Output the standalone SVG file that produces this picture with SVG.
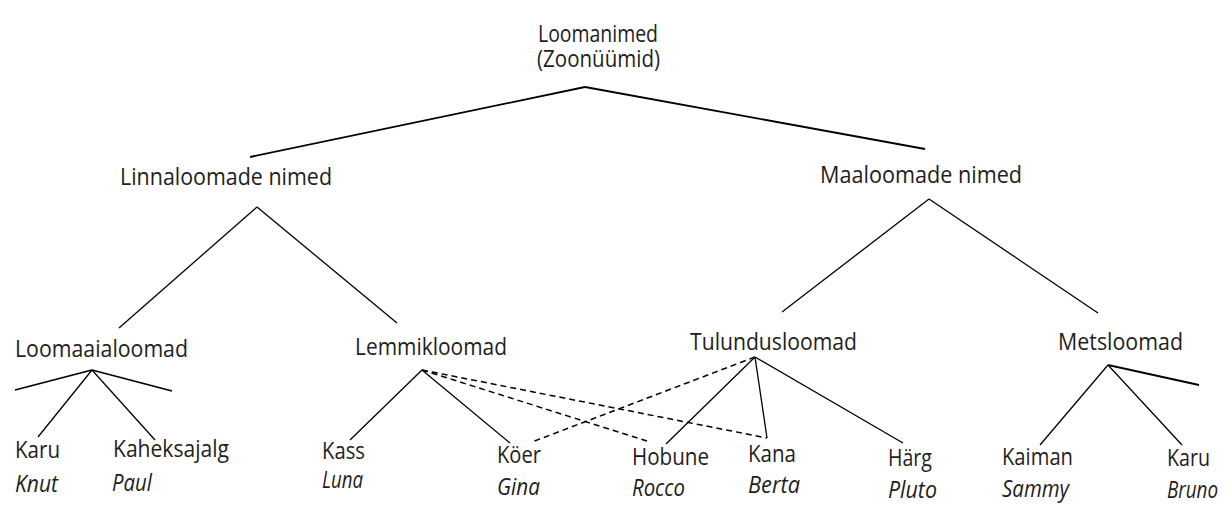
<svg xmlns="http://www.w3.org/2000/svg" width="1232" height="505" viewBox="0 0 1232 505">
<style>
text{font-family:"Open Sans","Liberation Sans",sans-serif;font-size:23px;fill:#1e1e1e}
.i{font-style:italic}
line{stroke:#000;stroke-width:1.3;fill:none}
.t{stroke-width:1.8}
.d{stroke-dasharray:6 4;stroke-width:1.5}
</style>
<rect width="1232" height="505" fill="#fff"/>
<g id="connectors">
<line class="t" x1="585" y1="87" x2="250" y2="157"/>
<line class="t" x1="585" y1="87" x2="925" y2="149"/>
<line x1="257" y1="207" x2="119" y2="328"/>
<line x1="257" y1="207" x2="397" y2="323"/>
<line x1="929" y1="199" x2="782" y2="312"/>
<line x1="929" y1="199" x2="1098" y2="313"/>
<line class="t" x1="92" y1="370" x2="15" y2="390"/>
<line class="t" x1="92" y1="370" x2="172" y2="391"/>
<line x1="92" y1="370" x2="38" y2="437"/>
<line x1="92" y1="370" x2="155" y2="440"/>
<line x1="422" y1="370" x2="350" y2="440"/>
<line x1="422" y1="370" x2="510" y2="443"/>
<line class="d" x1="422" y1="370" x2="647" y2="441"/>
<line class="d" x1="422" y1="370" x2="767" y2="438"/>
<line class="d" x1="755" y1="357" x2="532" y2="442"/>
<line x1="755" y1="357" x2="666" y2="444"/>
<line x1="755" y1="357" x2="767" y2="438"/>
<line x1="755" y1="357" x2="903" y2="443"/>
<line x1="1108" y1="365" x2="1199" y2="385" class="t"/>
<line x1="1108" y1="365" x2="1040" y2="445"/>
<line x1="1108" y1="365" x2="1182" y2="445"/>
</g>
<g id="root"><text x="538" y="42" textLength="120" lengthAdjust="spacingAndGlyphs">Loomanimed</text><text x="537" y="67" textLength="123" lengthAdjust="spacingAndGlyphs">(Zoonüümid)</text></g>
<g id="linna"><text x="120" y="185" textLength="212" lengthAdjust="spacingAndGlyphs">Linnaloomade nimed</text></g>
<g id="maa"><text x="820" y="183" textLength="202" lengthAdjust="spacingAndGlyphs">Maaloomade nimed</text></g>
<g id="loomaaia"><text x="15" y="357" textLength="173" lengthAdjust="spacingAndGlyphs">Loomaaialoomad</text></g>
<g id="lemmik"><text x="355" y="355" textLength="152" lengthAdjust="spacingAndGlyphs">Lemmikloomad</text></g>
<g id="tulundus"><text x="690" y="350" textLength="167" lengthAdjust="spacingAndGlyphs">Tulundusloomad</text></g>
<g id="mets"><text x="1058" y="350" textLength="125" lengthAdjust="spacingAndGlyphs">Metsloomad</text></g>
<g id="karu1"><text x="15" y="458" textLength="45" lengthAdjust="spacingAndGlyphs">Karu</text><text class="i" x="15" y="492" textLength="43" lengthAdjust="spacingAndGlyphs">Knut</text></g>
<g id="kaheksajalg"><text x="113" y="457" textLength="116" lengthAdjust="spacingAndGlyphs">Kaheksajalg</text><text class="i" x="112" y="491" textLength="40" lengthAdjust="spacingAndGlyphs">Paul</text></g>
<g id="kass"><text x="322" y="459" textLength="43" lengthAdjust="spacingAndGlyphs">Kass</text><text class="i" x="322" y="488" textLength="41" lengthAdjust="spacingAndGlyphs">Luna</text></g>
<g id="koer"><text x="497" y="463" textLength="44" lengthAdjust="spacingAndGlyphs">Köer</text><text class="i" x="497" y="495" textLength="43" lengthAdjust="spacingAndGlyphs">Gina</text></g>
<g id="hobune"><text x="632" y="465" textLength="77" lengthAdjust="spacingAndGlyphs">Hobune</text><text class="i" x="632" y="496" textLength="53" lengthAdjust="spacingAndGlyphs">Rocco</text></g>
<g id="kana"><text x="748" y="462" textLength="48" lengthAdjust="spacingAndGlyphs">Kana</text><text class="i" x="748" y="493" textLength="52" lengthAdjust="spacingAndGlyphs">Berta</text></g>
<g id="harg"><text x="888" y="466" textLength="44" lengthAdjust="spacingAndGlyphs">Härg</text><text class="i" x="888" y="498" textLength="49" lengthAdjust="spacingAndGlyphs">Pluto</text></g>
<g id="kaiman"><text x="1002" y="465" textLength="71" lengthAdjust="spacingAndGlyphs">Kaiman</text><text class="i" x="1002" y="497" textLength="67" lengthAdjust="spacingAndGlyphs">Sammy</text></g>
<g id="karu2"><text x="1167" y="466" textLength="43" lengthAdjust="spacingAndGlyphs">Karu</text><text class="i" x="1167" y="498" textLength="51" lengthAdjust="spacingAndGlyphs">Bruno</text></g>
</svg>
